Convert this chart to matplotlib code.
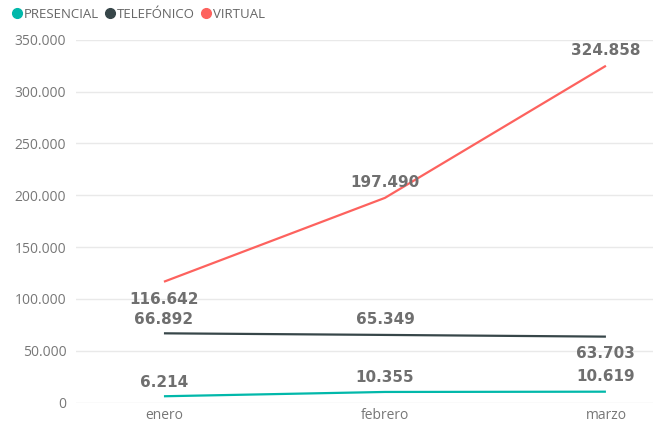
import matplotlib
matplotlib.use("Agg")
import matplotlib.pyplot as plt
from matplotlib.ticker import FuncFormatter

# monthly attention counts by channel
months = ["enero", "febrero", "marzo"]
presencial = [6214, 10355, 10619]
telefonico = [66892, 65349, 63703]
virtual = [116642, 197490, 324858]

series = [
    ("PRESENCIAL", presencial, "#01B8AA", [14, 14, 15]),
    ("TELEFÓNICO", telefonico, "#374649", [14, 15, -17]),
    ("VIRTUAL", virtual, "#FD625E", [-18, 15, 15]),
]

plt.rcParams["font.family"] = ["Open Sans", "DejaVu Sans"]

fig = plt.figure(figsize=(6.53, 4.26), dpi=100)
ax = fig.add_axes([76 / 653, 1 - 402.7 / 426, 1 - 76 / 653, (402.7 - 39.7) / 426])

x = range(len(months))
for name, vals, color, offs in series:
    ax.plot(x, vals, color=color, lw=1.6, label=name, solid_capstyle="butt", zorder=3)
    for xi, v, off in zip(x, vals, offs):
        # value labels sit above the point, or below where they would collide
        ax.annotate(f"{v:,}".replace(",", "."), (xi, v),
                    xytext=(0, off * 0.72), textcoords="offset points",
                    ha="center", va="center", fontsize=11, fontweight="bold",
                    color="#6f6f6f", family="DejaVu Sans", annotation_clip=False, zorder=4)

ax.set_xlim(-0.398, 2.213)
ax.set_ylim(0, 350000)
ax.set_yticks(range(0, 350001, 50000))
ax.yaxis.set_major_formatter(FuncFormatter(lambda v, p: f"{int(v):,}".replace(",", ".")))
ax.set_xticks(list(x))
ax.set_xticklabels(months)

ax.grid(axis="y", color="#e9e9e9", lw=1)
ax.set_axisbelow(True)
for s in ax.spines.values():
    s.set_visible(False)
ax.tick_params(axis="both", length=0, colors="#777777", labelsize=10)
ax.tick_params(axis="y", pad=7)
ax.tick_params(axis="x", pad=4)

# legend across the top
handles = [plt.Line2D([], [], marker="o", ls="none", ms=7, mfc=c, mec=c) for _, _, c, _ in series]
leg = fig.legend(handles, [s[0] for s in series], loc="center left",
                 bbox_to_anchor=(14 / 653, 1 - 14 / 426), ncol=3, frameon=False,
                 handletextpad=0.25, columnspacing=0.6, fontsize=9.5, borderpad=0,
                 handlelength=0.5, borderaxespad=0)
for t in leg.get_texts():
    t.set_color("#666666")

fig.savefig("out.png", dpi=100)
